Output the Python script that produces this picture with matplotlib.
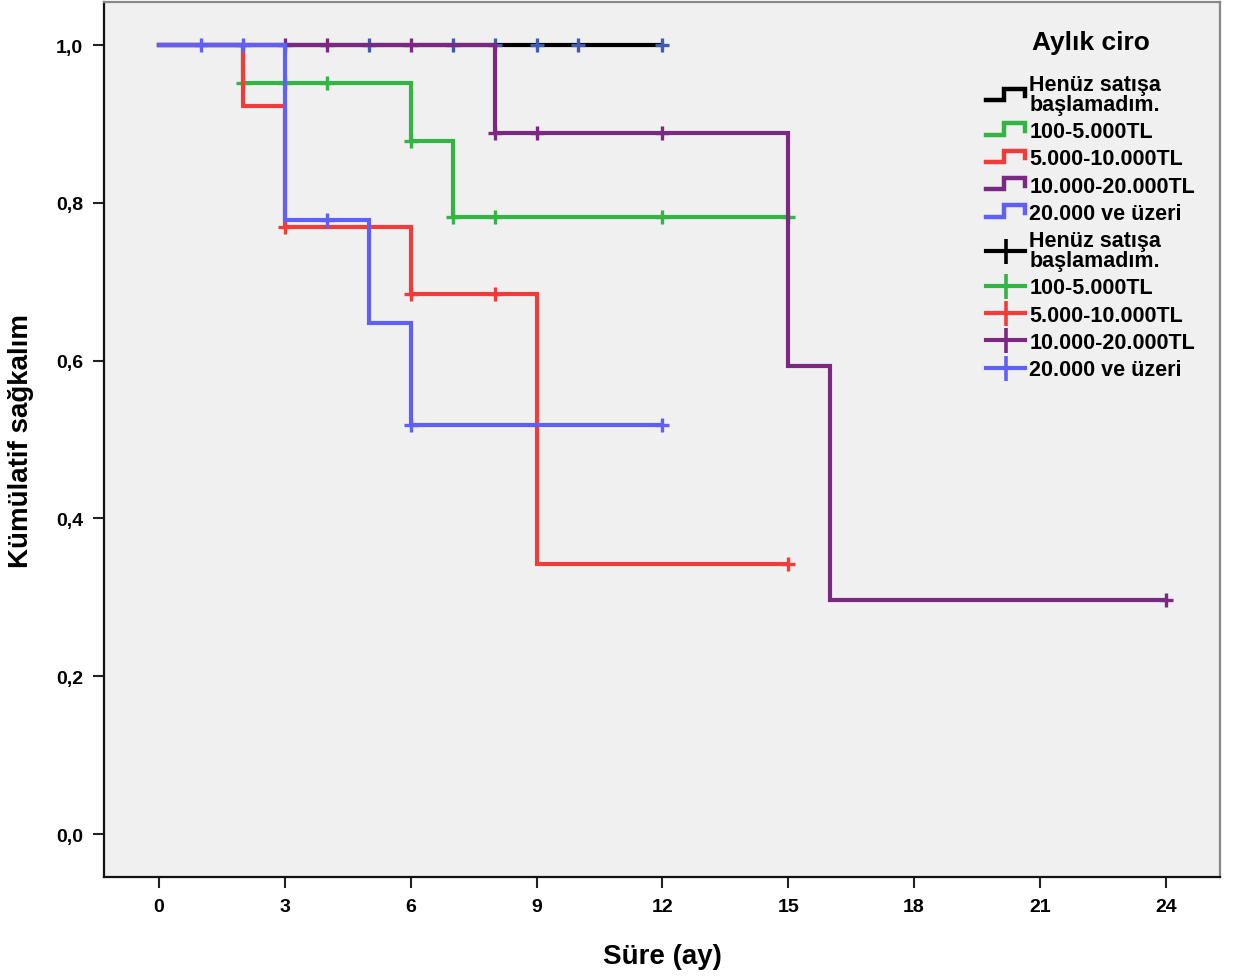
import numpy as np
import matplotlib
matplotlib.use('Agg')
import matplotlib.pyplot as plt
from matplotlib.lines import Line2D
from matplotlib.legend_handler import HandlerBase

# Kaplan-Meier steps per revenue group (time in months, cumulative survival)
groups = ['Henüz satışa\nbaşlamadım.', '100-5.000TL', '5.000-10.000TL',
          '10.000-20.000TL', '20.000 ve üzeri']
colors = ['#000000', '#34b444', '#f23c3c', '#7a2882', '#6060f8']
mark_colors = ['#3e5cb0', '#34b444', '#f23c3c', '#7a2882', '#6060f8']

black_t = [0, 12]
black_s = [1.0, 1.0]
green_t = [0, 2, 6, 7, 15]
green_s = [1.0, 0.952, 0.878, 0.782, 0.782]
red_t = [0, 2, 3, 6, 9, 15]
red_s = [1.0, 0.923, 0.769, 0.684, 0.342, 0.342]
purple_t = [0, 8, 15, 16, 24]
purple_s = [1.0, 0.889, 0.593, 0.296, 0.296]
blue_t = [0, 3, 5, 6, 12]
blue_s = [1.0, 0.778, 0.648, 0.519, 0.519]

# censored observations
black_c = [5, 7, 8, 9, 10, 12]
green_c = [2, 3, 4, 6, 7, 8, 12, 15]
red_c = [3, 6, 8, 15]
purple_c = [3, 4, 6, 8, 9, 12, 24]
blue_c = [1, 2, 4, 6, 12]

curves = [(black_t, black_s, black_c), (green_t, green_s, green_c),
          (red_t, red_s, red_c), (purple_t, purple_s, purple_c),
          (blue_t, blue_s, blue_c)]

x_ticks = [0, 3, 6, 9, 12, 15, 18, 21, 24]
y_ticks = [0.0, 0.2, 0.4, 0.6, 0.8, 1.0]

tick_font = ['Liberation Sans Narrow', 'Liberation Sans', 'DejaVu Sans']
text_font = ['Liberation Sans', 'DejaVu Sans']


class HandlerStep(HandlerBase):
    def create_artists(self, legend, orig_handle, xdescent, ydescent,
                       width, height, fontsize, trans):
        x0, w, h = -xdescent, width, height
        y0 = -ydescent
        xs = [x0, x0 + 0.45 * w, x0 + 0.45 * w, x0 + w, x0 + w]
        ys = [y0 + 0.15 * h, y0 + 0.15 * h, y0 + 0.9 * h, y0 + 0.9 * h,
              y0 + 0.4 * h]
        ln = Line2D(xs, ys, color=orig_handle.get_color(), lw=3.2,
                    solid_joinstyle='miter', transform=trans)
        return [ln]


class StepKey(Line2D):
    pass


fig = plt.figure(figsize=(12.35, 9.78), dpi=100)
ax = fig.add_axes([0.0842, 0.1022, 0.9036, 0.8947])
ax.set_facecolor('#f0f0f0')

for (t, s, c), col, mcol in zip(curves, colors, mark_colors):
    ax.step(t, s, where='post', color=col, lw=3, solid_joinstyle='miter')
    idx = np.searchsorted(t, c, side='right') - 1
    ax.plot(c, np.array(s)[idx], ls='none', marker='+', ms=10, mew=2.4,
            color=mcol)

ax.set_xlim(-1.31, 25.29)
ax.set_ylim(-0.0545, 1.0545)
ax.set_xticks(x_ticks)
ax.set_yticks(y_ticks)
ax.set_xticklabels([str(v) for v in x_ticks], family=tick_font,
                   fontweight='bold', fontsize=14)
ax.set_yticklabels([f'{v:.1f}'.replace('.', ',') for v in y_ticks],
                   family=tick_font, fontweight='bold', fontsize=14)
ax.tick_params(length=8, width=1.5, color='#222222', pad=7)

for side in ['left', 'bottom']:
    ax.spines[side].set_color('#111111')
    ax.spines[side].set_linewidth(1.6)
for side in ['top', 'right']:
    ax.spines[side].set_color('#888888')
    ax.spines[side].set_linewidth(1.6)

ax.set_xlabel('Süre (ay)', family=text_font, fontweight='bold', fontsize=20,
              labelpad=20)
ax.set_ylabel('Kümülatif sağkalım', family=text_font, fontweight='bold',
              fontsize=20, labelpad=16)

step_handles = [StepKey([], [], color=col) for col in colors]
cross_handles = [Line2D([], [], color=col, lw=3, marker='+', ms=18, mew=2.6)
                 for col in colors]
leg = ax.legend(step_handles + cross_handles, groups + groups,
                loc='upper right', bbox_to_anchor=(0.995, 0.99),
                frameon=False, title='Aylık ciro',
                title_fontproperties={'family': text_font, 'weight': 'bold',
                                      'size': 19},
                prop={'family': text_font, 'weight': 'bold', 'size': 15.5},
                handlelength=1.8, handletextpad=0.2, labelspacing=0.29,
                handler_map={StepKey: HandlerStep()})
leg._legend_box.sep = 14
for txt in leg.get_texts():
    txt.set_linespacing(0.95)

fig.savefig('out.png', dpi=100)
